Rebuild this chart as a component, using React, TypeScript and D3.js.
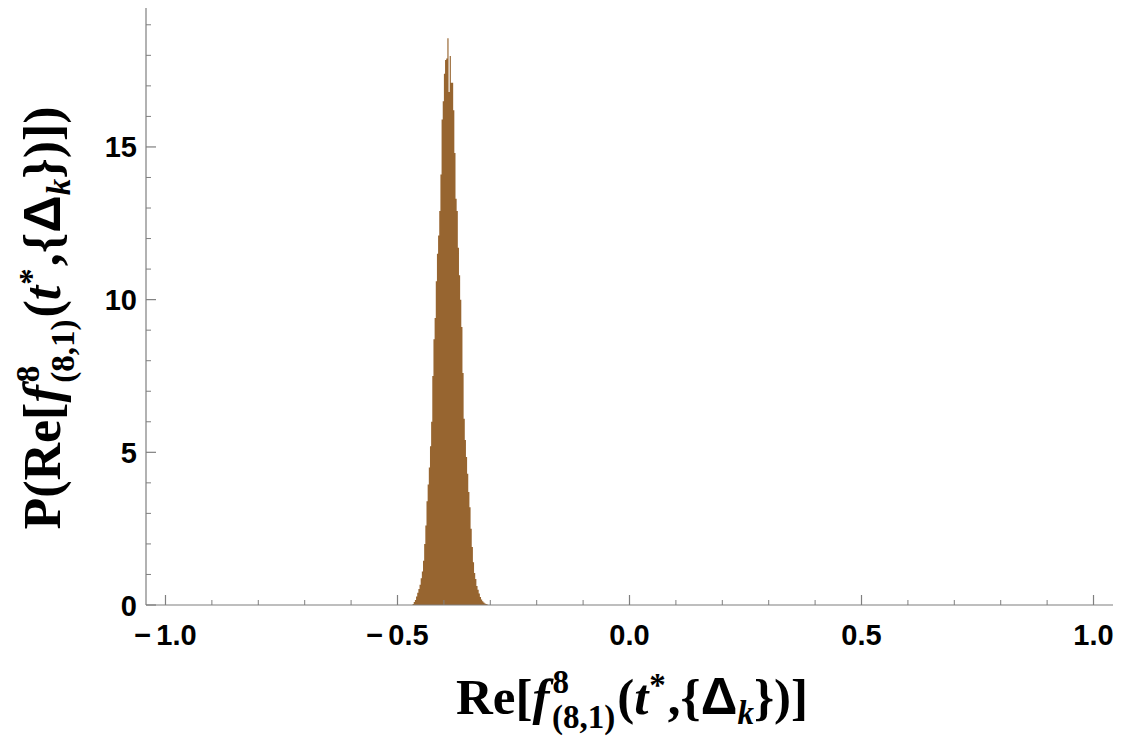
import React from "react";
import * as d3 from "d3";

const W = 1122;
const H = 744;

// Histogram (probability density) of Re[f^8_(8,1)(t*,{Δk})]
const binStart = -0.4675;
const binWidth = 0.0025;
const density = [
  0.03, 0.1, 0.16, 0.28, 0.4, 0.52, 0.66, 0.88, 1.1, 1.45,
  2.0, 2.6, 3.4, 3.95, 4.5, 5.2, 6.0, 7.5, 8.7, 9.4,
  10.6, 11.5, 12.1, 12.9, 14.1, 15.9, 16.5, 17.4, 17.85, 17.9,
  18.56, 16.8, 17.98, 17.1, 17.1, 16.2, 14.8, 13.3, 12.9, 11.7,
  10.8, 10.0, 9.1, 7.6, 6.1, 5.4, 4.85, 4.3, 3.7, 3.2,
  2.5, 1.9, 1.4, 1.05, 0.85, 0.62, 0.5, 0.38, 0.26, 0.18,
  0.12, 0.08, 0.05, 0.03, 0.02,
];

const xMajorTicks = [-1.0, -0.5, 0.0, 0.5, 1.0];
const xMinorTicks = [-0.9, -0.8, -0.7, -0.6, -0.4, -0.3, -0.2, -0.1, 0.1, 0.2, 0.3, 0.4, 0.6, 0.7, 0.8, 0.9];
const yMajorTicks = [0, 5, 10, 15];
const yMinorTicks = [1, 2, 3, 4, 6, 7, 8, 9, 11, 12, 13, 14, 16, 17, 18, 19];

const x = d3.scaleLinear().domain([-1.042, 1.042]).range([146, 1113]);
const y = d3.scaleLinear().domain([0, 19.55]).range([605, 8]);

const axisColor = "#7f7f7f";
const barColor = "#976530";
const tickFont = "'Liberation Sans', Arial, sans-serif";
const serif = "'Liberation Serif', 'Times New Roman', serif";

function fmt(v: number) {
  const s = Math.abs(v).toFixed(1);
  return { neg: v < 0, s };
}

function LabelTspans({ prefix, suffix }: { prefix: string; suffix: string }) {
  const sub = 33;
  return (
    <>
      <tspan>{prefix}Re[</tspan>
      <tspan fontStyle="italic">f</tspan>
      <tspan fontSize={sub} dx={3} dy={-21}>8</tspan>
      <tspan fontSize={sub} dx={-17} dy={35}>(8,1)</tspan>
      <tspan dx={2} dy={-14}>(</tspan>
      <tspan fontStyle="italic">t</tspan>
      <tspan fontSize={sub} dx={1} dy={-18}>*</tspan>
      <tspan dx={2} dy={18}>,{"{"}</tspan>
      <tspan fontFamily={tickFont}>Δ</tspan>
      <tspan fontStyle="italic" fontSize={sub} dy={10}>k</tspan>
      <tspan dy={-10}>{"}"}){suffix}</tspan>
    </>
  );
}

export default function App() {
  const pts: [number, number][] = density.map((d, i) => [binStart + i * binWidth, d]);
  pts.push([binStart + density.length * binWidth, 0]);

  const area = d3
    .area<[number, number]>()
    .x((p) => x(p[0]))
    .y0(y(0))
    .y1((p) => y(p[1]))
    .curve(d3.curveStepAfter);

  return (
    <div style={{ position: "fixed", left: 0, top: 0 }}>
      <svg width={W} height={H} style={{ display: "block", background: "#fff" }}>
        {/* histogram */}
        <path d={area(pts) || ""} fill={barColor} stroke="none" />

        {/* axes lines */}
        <line x1={146} x2={1113} y1={y(0)} y2={y(0)} stroke={axisColor} strokeWidth={1.2} />
        <line x1={146} x2={146} y1={y(0)} y2={y.range()[1]} stroke={axisColor} strokeWidth={1.2} />

        {/* x ticks */}
        {xMajorTicks.map((t) => (
          <line key={"xm" + t} x1={x(t)} x2={x(t)} y1={y(0)} y2={y(0) - 10} stroke={axisColor} strokeWidth={1.2} />
        ))}
        {xMinorTicks.map((t) => (
          <line key={"xn" + t} x1={x(t)} x2={x(t)} y1={y(0)} y2={y(0) - 5} stroke={axisColor} strokeWidth={1} />
        ))}
        {/* y ticks */}
        {yMajorTicks.map((t) => (
          <line key={"ym" + t} x1={146} x2={156} y1={y(t)} y2={y(t)} stroke={axisColor} strokeWidth={1.2} />
        ))}
        {yMinorTicks.map((t) => (
          <line key={"yn" + t} x1={146} x2={151} y1={y(t)} y2={y(t)} stroke={axisColor} strokeWidth={1} />
        ))}

        {/* x tick labels */}
        {xMajorTicks.map((t) => {
          const f = fmt(t);
          return (
            <text
              key={"xl" + t}
              x={x(t)}
              y={645}
              textAnchor="middle"
              fontFamily={tickFont}
              fontWeight="bold"
              fontSize={29}
              fill="#000"
            >
              {f.neg ? <tspan>−</tspan> : null}
              {f.neg ? <tspan dx={5}>{f.s}</tspan> : <tspan>{f.s}</tspan>}
            </text>
          );
        })}

        {/* y tick labels */}
        {yMajorTicks.map((t) => (
          <text
            key={"yl" + t}
            x={137}
            y={y(t) + 10.5}
            textAnchor="end"
            fontFamily={tickFont}
            fontWeight="bold"
            fontSize={29}
            fill="#000"
          >
            {t}
          </text>
        ))}

        {/* x axis label */}
        <text
          x={632}
          y={714}
          textAnchor="middle"
          fontFamily={serif}
          fontWeight="bold"
          fontSize={51}
          fill="#000"
        >
          <LabelTspans prefix="" suffix="]" />
        </text>

        {/* y axis label */}
        <text
          transform={`translate(60,${318}) rotate(-90)`}
          textAnchor="middle"
          fontFamily={serif}
          fontWeight="bold"
          fontSize={52}
          fill="#000"
        >
          <LabelTspans prefix="P(" suffix="])" />
        </text>
      </svg>
    </div>
  );
}
